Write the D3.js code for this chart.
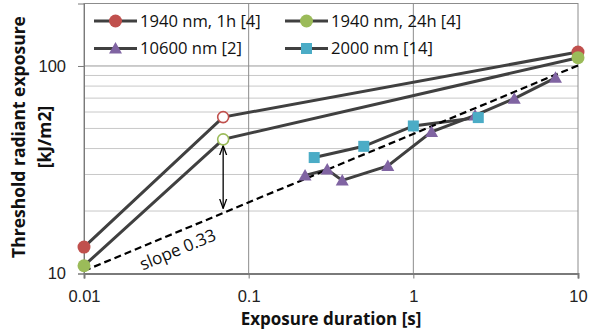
<!DOCTYPE html>
<html>
<head>
<meta charset="utf-8">
<script src="https://cdn.jsdelivr.net/npm/d3@7"></script>
<style>
  body { margin: 0; background: #fff; }
  svg { display: block; font-family: "Open Sans", "Liberation Sans", sans-serif; }
  .tick-label { font-size: 16.5px; fill: #222; }
  .slope-label { font-size: 17px; fill: #111; }
  .title { font-size: 17.5px; font-weight: bold; fill: #111; }
  .legend-text { font-size: 16.6px; fill: #111; }
</style>
</head>
<body>
<div class="chart"></div>
<script>
// DATA ----------------------------------------
// [exposure duration s, threshold kJ/m2]
const red1h = [[0.01, 13.4], [0.07, 56.7], [10, 116.7]];
const green24h = [[0.01, 10.9], [0.07, 44.3], [10, 109.6]];
const co2_10600 = [[0.22, 29.7], [0.30, 31.7], [0.37, 28.1], [0.70, 33.0],
  [1.29, 48.1], [2.37, 57.8], [4.1, 69.6], [7.3, 87.7]];
const tm2000 = [[0.25, 36.2], [0.5, 41.0], [1.0, 51.4], [2.48, 56.4]];
const slopeLine = [[0.01, 10.3], [10, 100.6]];
const arrowSpan = [0.07, 20.6, 41.3];
const xTicks = [0.01, 0.1, 1, 10];
const yTicks = [10, 100];
const yMinor = [20, 30, 40, 50, 60, 70, 80, 90];

const legendItems = [
  {name: '1940 nm, 1h [4]', color: '#C0504D', shape: 'circle'},
  {name: '1940 nm, 24h [4]', color: '#9BBB59', shape: 'circle'},
  {name: '10600 nm [2]', color: '#8064A2', shape: 'triangle'},
  {name: '2000 nm [14]', color: '#4BACC6', shape: 'square'}
];

// CHART INIT ----------------------------------------
const W = 589, H = 331;
const plot = {left: 84, right: 578, top: 3.5, bottom: 273.5};

const svg = d3.select('.chart').append('svg')
  .attr('width', W)
  .attr('height', H);

const x = d3.scaleLog().domain([0.01, 10]).range([plot.left, plot.right]);
const y = d3.scaleLog().domain([10, 200]).range([plot.bottom, plot.top]);

// gridlines
svg.append('g').selectAll('line')
  .data(yMinor)
  .join('line')
  .attr('x1', plot.left).attr('x2', plot.right)
  .attr('y1', d => y(d)).attr('y2', d => y(d))
  .attr('stroke', '#c8c8c8').attr('stroke-width', 1);

svg.append('line')
  .attr('x1', plot.left).attr('x2', plot.right)
  .attr('y1', y(100)).attr('y2', y(100))
  .attr('stroke', '#9a9a9a').attr('stroke-width', 1);

svg.append('g').selectAll('line')
  .data([0.1, 1])
  .join('line')
  .attr('x1', d => x(d)).attr('x2', d => x(d))
  .attr('y1', plot.top).attr('y2', plot.bottom)
  .attr('stroke', '#8c8c8c').attr('stroke-width', 1);

// plot border
svg.append('rect')
  .attr('x', plot.left).attr('y', plot.top)
  .attr('width', plot.right - plot.left)
  .attr('height', plot.bottom - plot.top)
  .attr('fill', 'none')
  .attr('stroke', '#8c8c8c');

// axes
const xAxis = d3.axisBottom(x).tickValues(xTicks).tickFormat(d3.format('')).tickSize(5).tickPadding(12);
const yAxis = d3.axisLeft(y).tickValues(yTicks).tickFormat(d3.format('')).tickSize(6).tickPadding(12);

const gx = svg.append('g')
  .attr('transform', `translate(0, ${plot.bottom})`)
  .call(xAxis);
const gy = svg.append('g')
  .attr('transform', `translate(${plot.left}, 0)`)
  .call(yAxis);

[gx, gy].forEach(g => {
  g.select('.domain').attr('stroke', '#7a7a7a').attr('stroke-width', 2);
  g.selectAll('.tick line').attr('stroke', '#7a7a7a').attr('stroke-width', 1);
  g.selectAll('.tick text').attr('class', 'tick-label').attr('font-family', null).attr('font-size', null);
});
gy.select('.domain').attr('stroke-width', 1);

// axis titles
svg.append('text')
  .attr('class', 'title')
  .attr('x', (plot.left + plot.right) / 2)
  .attr('y', 325)
  .attr('text-anchor', 'middle')
  .style('font-size', '17px')
  .text('Exposure duration [s]');

svg.append('text')
  .attr('class', 'title')
  .attr('transform', 'translate(25,137) rotate(-90)')
  .attr('text-anchor', 'middle')
  .text('Threshold radiant exposure');

svg.append('text')
  .attr('class', 'title')
  .attr('transform', 'translate(51,137) rotate(-90)')
  .attr('text-anchor', 'middle')
  .text('[kJ/m2]');

// series lines
const line = d3.line().x(d => x(d[0])).y(d => y(d[1]));

[red1h, green24h, co2_10600, tm2000].forEach(s => {
  svg.append('path')
    .datum(s)
    .attr('d', line)
    .attr('fill', 'none')
    .attr('stroke', '#404040')
    .attr('stroke-width', 3);
});

svg.append('path')
  .datum(slopeLine)
  .attr('d', line)
  .attr('fill', 'none')
  .attr('stroke', '#000')
  .attr('stroke-width', 2.2)
  .attr('stroke-dasharray', '7,4');

// arrow
const defs = svg.append('defs');
defs.append('marker')
  .attr('id', 'arr')
  .attr('viewBox', '0 0 10 10')
  .attr('refX', 9.5).attr('refY', 5)
  .attr('markerWidth', 10).attr('markerHeight', 10)
  .attr('markerUnits', 'userSpaceOnUse')
  .attr('orient', 'auto-start-reverse')
  .append('path')
  .attr('d', 'M0,1.5 L9.5,5 L0,8.5')
  .attr('fill', 'none')
  .attr('stroke', '#000')
  .attr('stroke-width', 1.3);

svg.append('line')
  .attr('x1', x(arrowSpan[0])).attr('x2', x(arrowSpan[0]))
  .attr('y1', y(arrowSpan[2])).attr('y2', y(arrowSpan[1]))
  .attr('stroke', '#000')
  .attr('stroke-width', 1.3)
  .attr('marker-start', 'url(#arr)')
  .attr('marker-end', 'url(#arr)');

// slope label
const slopeAngle = Math.atan2(y(slopeLine[1][1]) - y(slopeLine[0][1]), x(slopeLine[1][0]) - x(slopeLine[0][0])) * 180 / Math.PI;
svg.append('text')
  .attr('class', 'slope-label')
  .attr('transform', `translate(180,255) rotate(${slopeAngle})`)
  .attr('text-anchor', 'middle')
  .text('slope 0.33');

// markers
function drawMarker(g, shape, color, cx, cy, hollow) {
  if (shape === 'circle') {
    g.append('circle')
      .attr('cx', cx).attr('cy', cy)
      .attr('r', hollow ? 5.5 : 6.5)
      .attr('fill', hollow ? '#fff' : color)
      .attr('stroke', color)
      .attr('stroke-width', hollow ? 1.6 : 0);
  } else if (shape === 'square') {
    g.append('rect')
      .attr('x', cx - 5.5).attr('y', cy - 5.5)
      .attr('width', 11).attr('height', 11)
      .attr('fill', color);
  } else {
    g.append('path')
      .attr('d', `M${cx},${cy - 6.5} L${cx + 6.5},${cy + 5} L${cx - 6.5},${cy + 5} Z`)
      .attr('fill', color);
  }
}

const mk = svg.append('g');
[[red1h, legendItems[0]], [green24h, legendItems[1]], [co2_10600, legendItems[2]], [tm2000, legendItems[3]]]
  .forEach(([s, item]) => {
    s.forEach((d, i) => {
      const hollow = item.shape === 'circle' && i === 1;
      drawMarker(mk, item.shape, item.color, x(d[0]), y(d[1]), hollow);
    });
  });

// legend
const legendPos = [[94, 21], [285, 21], [94, 48.5], [285, 48.5]];
legendItems.forEach((item, i) => {
  const [lx, ly] = legendPos[i];
  const g = svg.append('g');
  g.append('line')
    .attr('x1', lx).attr('x2', lx + 43)
    .attr('y1', ly).attr('y2', ly)
    .attr('stroke', '#404040').attr('stroke-width', 3);
  drawMarker(g, item.shape, item.color, lx + 21.5, ly, false);
  g.append('text')
    .attr('class', 'legend-text')
    .attr('x', lx + 46)
    .attr('y', ly)
    .attr('dy', '0.35em')
    .text(item.name);
});
</script>
</body>
</html>
